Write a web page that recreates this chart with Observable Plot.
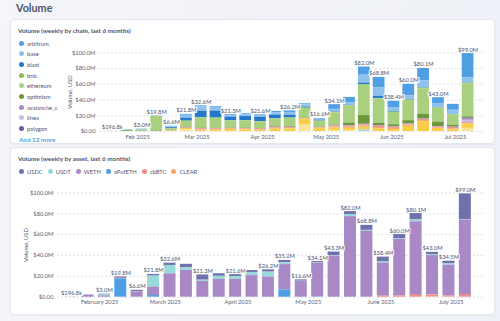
<!DOCTYPE html>
<html>
<head>
<meta charset="utf-8">
<script src="https://cdn.jsdelivr.net/npm/d3@7"></script>
<script src="https://cdn.jsdelivr.net/npm/@observablehq/plot@0.6"></script>
<style>
  html, body { margin: 0; padding: 0; }
  body {
    width: 500px; height: 321px; overflow: hidden; position: relative;
    background: linear-gradient(100deg, #f5f6f9 0%, #f0f2f7 60%, #eef1f7 100%);
    font-family: Lato, "Noto Sans", sans-serif;
  }
  .page-title { position: absolute; left: 16px; top: 0px; font-size: 10.8px; font-weight: 700; color: #4c5773; line-height: 16px; }
  .card { position: absolute; left: 10px; width: 485px; background: #fff; border: 1px solid #e4e7ed; border-radius: 4px; box-sizing: border-box; box-shadow: 0 1px 2px rgba(30,40,60,0.04); }
  #card1 { top: 19px; height: 125px; }
  #card2 { top: 147px; height: 168px; }
  .chart-title { position: absolute; left: 18px; font-size: 6.4px; font-weight: 700; color: #4c5773; white-space: nowrap; }
  .legend-v { position: absolute; left: 19px; top: 38px; }
  .legend-v .item { display: flex; align-items: center; height: 10.67px; font-size: 5.8px; color: #4c5773; }
  .legend-h { position: absolute; left: 19px; top: 168px; display: flex; align-items: center; }
  .legend-h .item { display: flex; align-items: center; font-size: 5.8px; color: #4c5773; margin-right: 5px; }
  .dot { width: 5px; height: 5px; border-radius: 50%; margin-right: 3px; flex: none; }
  .more { position: absolute; left: 19px; top: 136px; font-size: 6.3px; font-weight: 700; color: #509ee3; }
  .chart { position: absolute; left: 0; }
</style>
</head>
<body>
<div class="page-title">Volume</div>
<div class="card" id="card1"></div>
<div class="card" id="card2"></div>
<div class="chart-title" style="top:27px">Volume (weekly by chain, last 6 months)</div>
<div class="chart-title" style="top:155px">Volume (weekly by asset, last 6 months)</div>
<div class="legend-v" id="legend1"></div>
<div class="more" id="more1"></div>
<div class="legend-h" id="legend2"></div>
<div class="chart" id="chart1" style="top:40px"></div>
<div class="chart" id="chart2" style="top:180px"></div>
<script>
// ---------- data (USD millions per week) ----------
const weeks = ["2025-01-20","2025-01-27","2025-02-03","2025-02-10","2025-02-17","2025-02-24",
  "2025-03-03","2025-03-10","2025-03-17","2025-03-24","2025-03-31","2025-04-07","2025-04-14",
  "2025-04-21","2025-04-28","2025-05-05","2025-05-12","2025-05-19","2025-05-26","2025-06-02",
  "2025-06-09","2025-06-16","2025-06-23","2025-06-30","2025-07-07"];

const chainNames = ["arbitrum","base","blast","bnb","ethereum","optimism","avalanche_c","linea","polygon"];
const moreChainNames = ["scroll","mantle","sonic","unichain","zksync","celo","mode","gnosis","sei","zora","fantom","berachain"];
const chainColors = {
  arbitrum: "#509ee3", base: "#8ec2ee", blast: "#2676cc", bnb: "#88bf4d", ethereum: "#a8d07e",
  optimism: "#6a983a", avalanche_c: "#a989c5", linea: "#cdbbe0", polygon: "#7d53a9",
  scroll: "#ef8c8c", mantle: "#f2a86f", sonic: "#f9cd45", unichain: "#fbe29b", zksync: "#98d9d9",
  celo: "#e5737f", mode: "#f7c08f", gnosis: "#6fc2c2", sei: "#f6b0b0", zora: "#d9a440", fantom: "#e08a4a", berachain: "#c2ecec"
};
const arbitrum    = [0.03,0.6,0.4,0.4,0.8,1.2,1.3,1.0,1.0,1.2,0.8,1.5,2.0,1.2,0.8,6.0,6.5,10.5,13.0,8.0,14.5,15.5,7.5,7.5,30.5];
const base        = [0.12,0,0.8,0.3,1.0,3.6,5.5,4.5,2.0,2.3,2.6,3.0,3.5,3.0,1.3,3.4,3.5,10.0,11.0,5.0,5.0,9.0,5.0,5.0,6.5];
const blast       = [0,0,0,0,1.2,3.8,8.2,8.8,4.6,5.2,5.5,4.8,3.5,1.3,1.2,0.5,0.5,2.0,2.8,0.8,0.6,0.5,0.4,0.3,0.5];
const bnb         = [0,0,0,0,0,0.4,0.5,0.5,0.4,0.4,0.4,0.4,0.4,0.5,0.3,0.5,0.6,0.8,0.6,0.5,0.6,0.7,0.5,0.4,0.8];
const ethereum    = [0.0468,0.8,1.5,18.6,2.3,7.6,12.8,12.5,8.6,9.0,8.4,9.5,10.5,12.0,7.5,15.6,21.5,38.5,31.0,15.5,25.5,32.5,17.5,13.5,42.0];
const optimism    = [0,0.8,0.3,0.5,0.3,0.5,0.6,0.6,0.5,0.5,0.6,0.7,0.8,0.5,0.4,0.8,3.5,11.0,3.2,2.8,4.2,6.0,6.0,2.2,2.0];
const avalanche_c = [0,0,0,0,0,0.3,0.4,0.4,0.3,0.3,0.3,0.4,0.4,0.3,0.3,0.4,0.5,0.8,0.6,0.5,0.5,0.6,0.5,0.5,2.5];
const linea       = [0,0,0,0,0,0,0,0,0,0,0,0,0,0,0,0,0,0,0,0,0,0,0,0,3.0];
const polygon     = [0,0,0,0,0,0,0,0,0,0,0,0,0,0,0,0,0,0,0,0,0,0,0,0,0.5];
const scroll      = [0,0,0,0,0.3,0.6,1.2,1.0,0.8,0.8,1.0,0.9,1.0,0.5,0.4,1.0,1.2,1.5,1.5,1.3,0.8,1.2,1.2,1.5,0.7];
const mantle      = [0,0,0,0,0,0,0.6,0.5,0.6,0.5,0.4,1.3,0.8,0,0.8,1.6,1.5,1.5,1.6,1.5,1.8,1.6,0.6,1.4,0];
const sonic       = [0,0,0,0,0.7,1.6,1.5,1.7,2.5,2.3,1.6,3.0,3.3,7.9,3.6,3.0,3.0,3.5,3.5,2.5,6.5,12.5,3.8,2.2,6.0];
const unichain    = [0,0,0,0,0,2.2,0,0,0,0,0,0,0,8.0,0,1.3,1.0,0,0,0,0,0,0,0,4.0];
const zksync      = [0,0,0,0,0,0,0,0,0,0,0,0,0,0,0,0,0,1.9,0,0,0,0,0,0,0];
const chainValues = {arbitrum, base, blast, bnb, ethereum, optimism, avalanche_c, linea, polygon, scroll, mantle, sonic, unichain, zksync};

const assetNames = ["USDC","USDT","WETH","xPufETH","cbBTC","CLEAR"];
const assetColors = {USDC: "#7172ad", USDT: "#98d9d9", WETH: "#a989c5", xPufETH: "#509ee3", cbBTC: "#ef8c8c", CLEAR: "#f2a86f"};
const USDC    = [0.05,0.2,0.3,0.3,1.4,1.6,2.2,3.2,5.0,2.5,1.9,1.8,2.2,2.2,1.3,0.9,3.5,2.9,4.8,4.2,3.8,5.7,2.2,2.6,24.6];
const USDT    = [0.02,0,1.4,0,0.2,10.6,8.0,2.6,1.2,3.0,2.7,3.0,4.8,1.8,0.3,0.4,0.5,1.9,0.8,1.4,0.6,2.2,0.9,1.2,0.5];
const WETH    = [0.1268,2.0,1.3,1.9,5.0,8.0,22.4,25.7,15.1,17.0,17.0,20.7,19.2,24.2,15.0,32.6,39.3,77.2,63.2,31.8,54.4,69.6,37.7,29.5,71.3];
const xPufETH = [0,0,0,17.6,0,1.6,0,0,0,0,0,0,0,7.0,0,0.2,0,0,0,0,0,0,0,0,0];
const cbBTC   = [0,0,0,0,0,0,0,0,0,0,0,0,0,0,0,0,0,0,0,1.0,1.2,2.6,1.9,1.0,2.6];
const CLEAR   = [0,0,0,0,0,0,0,0,0,0,0,0,0,0,0,0,0,0,0,0,0,0,0.3,0.2,0];
const assetValues = {USDC, USDT, WETH, xPufETH, cbBTC, CLEAR};

const yTicks = [0, 20, 40, 60, 80, 100];
const xDomain = [new Date("2025-01-14T00:00Z"), new Date("2025-07-14T18:00Z")];
const monthTicks = ["2025-02-01","2025-03-01","2025-04-01","2025-05-01","2025-06-01","2025-07-01"].map(d => new Date(d));

// ---------- helpers ----------
const parse = d3.utcParse("%Y-%m-%d");
function toRows(values, names) {
  const rows = [];
  for (const name of names) {
    const vals = values[name];
    if (!vals) continue;
    vals.forEach((v, i) => {
      if (v > 0) {
        const week = parse(weeks[i]);
        rows.push({week, start: d3.utcHour.offset(week, -84), end: d3.utcHour.offset(week, 84), series: name, value: v});
      }
    });
  }
  return rows;
}
function totalsOf(rows) {
  return d3.rollups(rows, v => d3.sum(v, d => d.value), d => +d.week)
    .map(([t, total]) => ({week: new Date(t), total}))
    .sort((a, b) => a.week - b.week);
}
const fmtAxis = v => v === 0 ? "$0.00" : `$${v.toFixed(1)}M`;
const fmtLabel = v => v < 1 ? `$${(v * 1000).toFixed(1)}k` : `$${v.toFixed(1)}M`;

// hide labels that would collide with an already placed one
function pickLabels(totals, x, y, charW, h) {
  const placed = [];
  const out = [];
  for (const d of totals) {
    const w = fmtLabel(d.total).length * charW;
    const box = {x0: x(d.week) - w / 2, x1: x(d.week) + w / 2, y0: y(d.total) - h, y1: y(d.total)};
    const hit = placed.some(b => box.x0 < b.x1 && box.x1 > b.x0 && box.y0 < b.y1 && box.y1 > b.y0);
    if (!hit) { placed.push(box); out.push(d); }
  }
  return out;
}

function volumeChart({values, names, colors, width, height, marginLeft, marginRight, marginTop, marginBottom, gap, monthFormat, labelOffset}) {
  const rows = toRows(values, names);
  const totals = totalsOf(rows);
  const xs = d3.scaleUtc(xDomain, [marginLeft, width - marginRight]);
  const ys = d3.scaleLinear([0, 100], [height - marginBottom, marginTop]);
  const labels = pickLabels(totals, xs, ys, 3.3, 8);
  return Plot.plot({
    width, height, marginLeft, marginRight, marginTop, marginBottom,
    style: {fontFamily: "Lato, 'Noto Sans', sans-serif", fontSize: "5.8px", color: "#5b6377", background: "transparent", overflow: "visible"},
    x: {type: "utc", domain: xDomain},
    y: {domain: [0, 100]},
    color: {domain: names, range: names.map(n => colors[n])},
    marks: [
      Plot.gridY(yTicks, {stroke: "#dde1e8", strokeOpacity: 1, strokeDasharray: "2,2"}),
      Plot.rectY(rows, Plot.stackY({
        x1: "start", x2: "end", y: "value", z: "series", fill: "series",
        order: [...names].reverse(), insetLeft: gap / 2, insetRight: gap / 2
      })),
      Plot.axisY({ticks: yTicks, tickSize: 0, tickPadding: 4, tickFormat: fmtAxis,
        label: "Volume, USD", labelAnchor: "center", labelOffset, labelArrow: "none", fill: "#5b6377"}),
      Plot.axisX({ticks: monthTicks, tickSize: 0, tickPadding: 3, tickFormat: d3.utcFormat(monthFormat), label: null, fill: "#5b6377"}),
      Plot.text(labels, {x: "week", y: "total", text: d => fmtLabel(d.total), dy: -2, lineAnchor: "bottom",
        fill: "#4c5773", stroke: "white", strokeWidth: 2, fontSize: 5.8})
    ]
  });
}

// ---------- legends ----------
const leg1 = document.getElementById("legend1");
for (const n of chainNames) {
  const it = document.createElement("div"); it.className = "item";
  it.innerHTML = `<span class="dot" style="background:${chainColors[n]}"></span><span>${n}</span>`;
  leg1.appendChild(it);
}
document.getElementById("more1").textContent = `And ${moreChainNames.length} more`;
const leg2 = document.getElementById("legend2");
for (const n of assetNames) {
  const it = document.createElement("div"); it.className = "item";
  it.innerHTML = `<span class="dot" style="background:${assetColors[n]}"></span><span>${n}</span>`;
  leg2.appendChild(it);
}

// ---------- charts ----------
const allChains = [...chainNames, ...moreChainNames];
document.getElementById("chart1").appendChild(volumeChart({
  values: chainValues, names: allChains, colors: chainColors,
  width: 500, height: 105, marginLeft: 99, marginRight: 16, marginTop: 12.3, marginBottom: 14,
  gap: 3.1, monthFormat: "%b %Y", labelOffset: 32
}));
document.getElementById("chart2").appendChild(volumeChart({
  values: assetValues, names: assetNames, colors: assetColors,
  width: 500, height: 135, marginLeft: 57, marginRight: 17, marginTop: 12.3, marginBottom: 18.3,
  gap: 4.4, monthFormat: "%B %Y", labelOffset: 34
}));
</script>
</body>
</html>
